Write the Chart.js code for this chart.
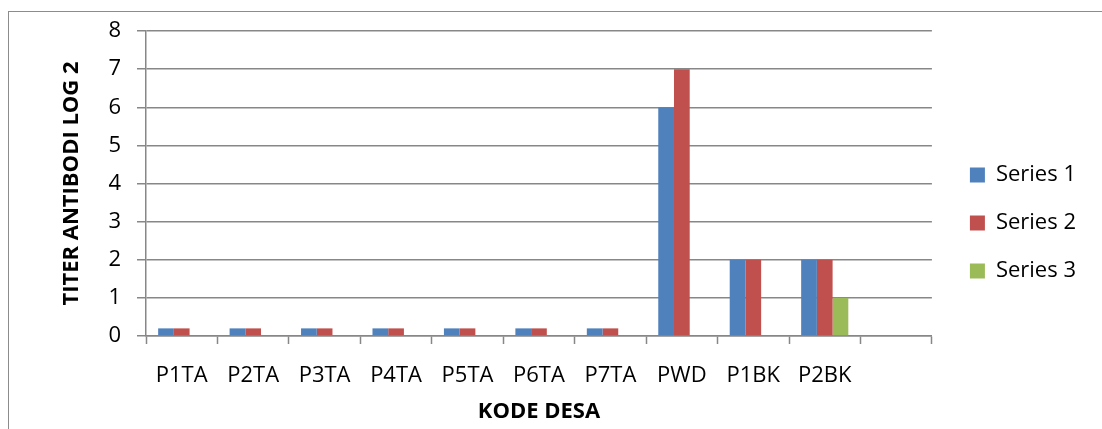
<!DOCTYPE html>
<html>
<head>
<meta charset="utf-8">
<script src="https://cdn.jsdelivr.net/npm/chart.js@4/dist/chart.umd.min.js"></script>
<style>
  html, body { margin: 0; padding: 0; background: #fff; overflow: hidden; }
  #wrap { position: relative; width: 1102px; height: 429px; }
  #frame { position: absolute; left: 8px; top: 11px; width: 1200px; height: 600px;
           border: 1.5px solid #8c8c8c; box-sizing: border-box; }
  #myChart { position: absolute; left: 0; top: 0; }
</style>
</head>
<body>
<div id="wrap">
  <div id="frame"></div>
  <canvas id="myChart" width="1102" height="429"></canvas>
</div>
<script>
// data
const categories = ['P1TA', 'P2TA', 'P3TA', 'P4TA', 'P5TA', 'P6TA', 'P7TA', 'PWD', 'P1BK', 'P2BK', ''];
const series1 = [0.2, 0.2, 0.2, 0.2, 0.2, 0.2, 0.2, 6, 2, 2, null];
const series2 = [0.2, 0.2, 0.2, 0.2, 0.2, 0.2, 0.2, 7, 2, 2, null];
const series3 = [null, null, null, null, null, null, null, null, null, 1, null];
const seriesNames = ['Series 1', 'Series 2', 'Series 3'];
const colors = ['#4F81BD', '#C0504D', '#9BBB59'];

const font = 'Open Sans';
const gridColor = '#878787';

// move the legend a bit, like the excel one
const legendNudge = {
    id: 'legendNudge',
    afterLayout(chart) {
        const lg = chart.legend;
        lg.left += 12; lg.right += 12;
        lg.top -= 7; lg.bottom -= 7;
    }
};

const ctx = document.getElementById('myChart').getContext('2d');
const chart = new Chart(ctx, {
    type: 'bar',
    data: {
        labels: categories,
        datasets: [
            { label: seriesNames[0], data: series1, backgroundColor: colors[0] },
            { label: seriesNames[1], data: series2, backgroundColor: colors[1] },
            { label: seriesNames[2], data: series3, backgroundColor: colors[2] }
        ]
    },
    options: {
        responsive: false,
        animation: false,
        categoryPercentage: 0.66,
        barPercentage: 1.0,
        layout: { padding: { top: 31, right: 28, bottom: 0, left: 0 } },
        plugins: {
            tooltip: { enabled: false },
            legend: {
                position: 'right',
                labels: {
                    boxWidth: 15,
                    boxHeight: 15,
                    padding: 26,
                    color: '#000',
                    font: { family: font, size: 22 }
                }
            }
        },
        scales: {
            x: {
                offset: true,
                afterFit: s => { s.height = 93; },
                grid: {
                    offset: true,
                    drawOnChartArea: false,
                    tickLength: 8,
                    tickWidth: 1.5,
                    tickColor: gridColor
                },
                border: { color: gridColor, width: 1.5 },
                ticks: {
                    padding: 19,
                    color: '#000',
                    maxRotation: 0,
                    autoSkip: false,
                    font: { family: font, size: 22 }
                },
                title: {
                    display: true,
                    text: 'KODE DESA',
                    color: '#000',
                    padding: { top: 0, bottom: 4 },
                    font: { family: font, size: 22, weight: 'bold' }
                }
            },
            y: {
                min: 0,
                max: 8,
                afterFit: s => { s.width = 146; },
                grid: {
                    color: gridColor,
                    lineWidth: 1.5,
                    tickLength: 9
                },
                border: { color: gridColor, width: 1.5 },
                ticks: {
                    stepSize: 1,
                    padding: 16,
                    color: '#000',
                    font: { family: font, size: 22 }
                },
                title: {
                    display: true,
                    text: 'TITER ANTIBODI LOG 2',
                    color: '#000',
                    padding: { top: 59, bottom: 0 },
                    font: { family: font, size: 22, weight: 'bold' }
                }
            }
        }
    },
    plugins: [legendNudge]
});
</script>
</body>
</html>
